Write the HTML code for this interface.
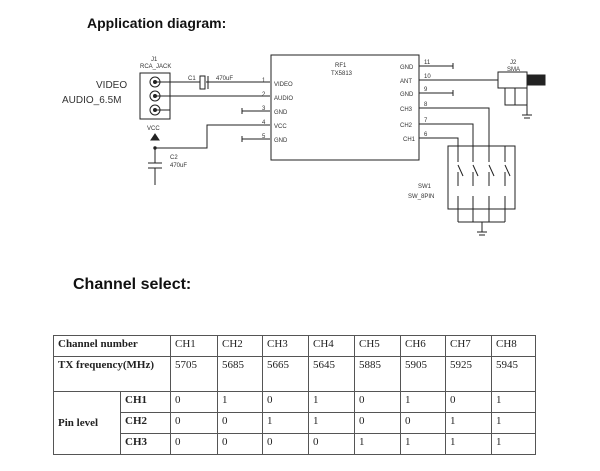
<!DOCTYPE html>
<html><head><style>
body{margin:0;width:600px;height:471px;background:#fff;overflow:hidden;font-family:"Liberation Sans",sans-serif;position:relative}
.t{position:absolute;font-weight:bold;color:#111}
table{position:absolute;left:53px;top:335px;border-collapse:collapse;table-layout:fixed;width:482px;font-family:"Liberation Serif",serif;font-size:11px;color:#222}
td{border:1px solid #555;padding:2px 4px;vertical-align:top;height:16px;overflow:hidden;white-space:nowrap}
</style></head><body>
<div class="t" style="left:87px;top:15px;font-size:14px">Application diagram:</div>
<div class="t" style="left:73px;top:276px;font-size:16px">Channel select:</div>
<svg width="600" height="260" style="position:absolute;left:0;top:0" font-family="Liberation Sans" fill="none" stroke="#222" stroke-width="1">
<g font-size="10" fill="#333" stroke="none">
<text x="96" y="88">VIDEO</text><text x="62" y="103">AUDIO_6.5M</text>
</g>
<g font-size="6" fill="#333" stroke="none">
<text x="151" y="61">J1</text><text x="140" y="68">RCA_JACK</text>
<text x="147" y="130">VCC</text>
<text x="170" y="159">C2</text><text x="170" y="167">470uF</text>
<text x="188" y="80">C1</text><text x="216" y="80">470uF</text>
<text x="262" y="82">1</text><text x="262" y="96">2</text><text x="262" y="110">3</text><text x="262" y="124">4</text><text x="262" y="138">5</text>
<text x="274" y="86">VIDEO</text><text x="274" y="100">AUDIO</text><text x="274" y="114">GND</text><text x="274" y="128">VCC</text><text x="274" y="142">GND</text>
<text x="335" y="67">RF1</text><text x="331" y="75">TX5813</text>
<text x="400" y="69">GND</text><text x="400" y="83">ANT</text><text x="400" y="96">GND</text><text x="400" y="111">CH3</text><text x="400" y="127">CH2</text><text x="403" y="141">CH1</text>
<text x="424" y="64">11</text><text x="424" y="78">10</text><text x="424" y="91">9</text><text x="424" y="106">8</text><text x="424" y="122">7</text><text x="424" y="136">6</text>
<text x="510" y="64">J2</text><text x="507" y="71">SMA</text>
<text x="418" y="188">SW1</text><text x="408" y="198">SW_8PIN</text>
</g>
<rect x="140" y="73" width="30" height="46"/>
<g><circle cx="155" cy="82" r="5"/><circle cx="155" cy="96" r="5"/><circle cx="155" cy="110" r="5"/></g>
<g fill="#222"><circle cx="155" cy="82" r="1.5"/><circle cx="155" cy="96" r="1.5"/><circle cx="155" cy="110" r="1.5"/></g>
<path d="M155 82H200M206 82H270M155 96H270M155 110H170"/>
<rect x="200" y="76" width="5" height="13" fill="#fff"/><path d="M208 76V89"/>
<path d="M242 111H270M242 108V114M242 139H270M242 136V142"/>
<path d="M155 148V163M148 163H162M148 168H162M155 168V185M155 148H207V125H270"/>
<circle cx="155" cy="148" r="1.2" fill="#222"/>
<polygon points="151,140 159,140 155,134" fill="#222"/>
<rect x="271" y="55" width="148" height="105"/>
<path d="M419 66H453M453 63V69M419 80H498M419 93H453M453 90V96"/>
<path d="M419 108H489V146M419 124H473V146M419 138H458V146"/>
<rect x="498" y="72" width="29" height="16"/><rect x="527" y="75" width="18" height="10" fill="#222"/>
<path d="M505 88V105H527M515 88V105M527 88V115M522 115H532M524 118H530"/>
<rect x="448" y="146" width="67" height="63"/>
<g>
<path d="M458 146V162M458 172V186M458 196V222"/><path d="M458 165L463 176"/>
<path d="M473 146V162M473 172V186M473 196V222"/><path d="M473 165L478 176"/>
<path d="M489 146V162M489 172V186M489 196V222"/><path d="M489 165L494 176"/>
<path d="M505 146V162M505 172V186M505 196V222"/><path d="M505 165L510 176"/>
</g>
<path d="M458 222H505M482 222V232M477 232H487M479 235H485"/>
</svg>
<table>
<colgroup><col style="width:67px"><col style="width:50px"><col style="width:47px"><col style="width:45px"><col style="width:46px"><col style="width:46px"><col style="width:46px"><col style="width:45px"><col style="width:46px"><col style="width:44px"></colgroup>
<tr><td colspan="2"><b>Channel number</b></td><td>CH1</td><td>CH2</td><td>CH3</td><td>CH4</td><td>CH5</td><td>CH6</td><td>CH7</td><td>CH8</td></tr>
<tr><td colspan="2" style="height:30px"><b>TX frequency(MHz)</b></td><td>5705</td><td>5685</td><td>5665</td><td>5645</td><td>5885</td><td>5905</td><td>5925</td><td>5945</td></tr>
<tr><td rowspan="3" style="vertical-align:middle"><b>Pin level</b></td><td><b>CH1</b></td><td>0</td><td>1</td><td>0</td><td>1</td><td>0</td><td>1</td><td>0</td><td>1</td></tr>
<tr><td><b>CH2</b></td><td>0</td><td>0</td><td>1</td><td>1</td><td>0</td><td>0</td><td>1</td><td>1</td></tr>
<tr><td><b>CH3</b></td><td>0</td><td>0</td><td>0</td><td>0</td><td>1</td><td>1</td><td>1</td><td>1</td></tr>
</table>
</body></html>
